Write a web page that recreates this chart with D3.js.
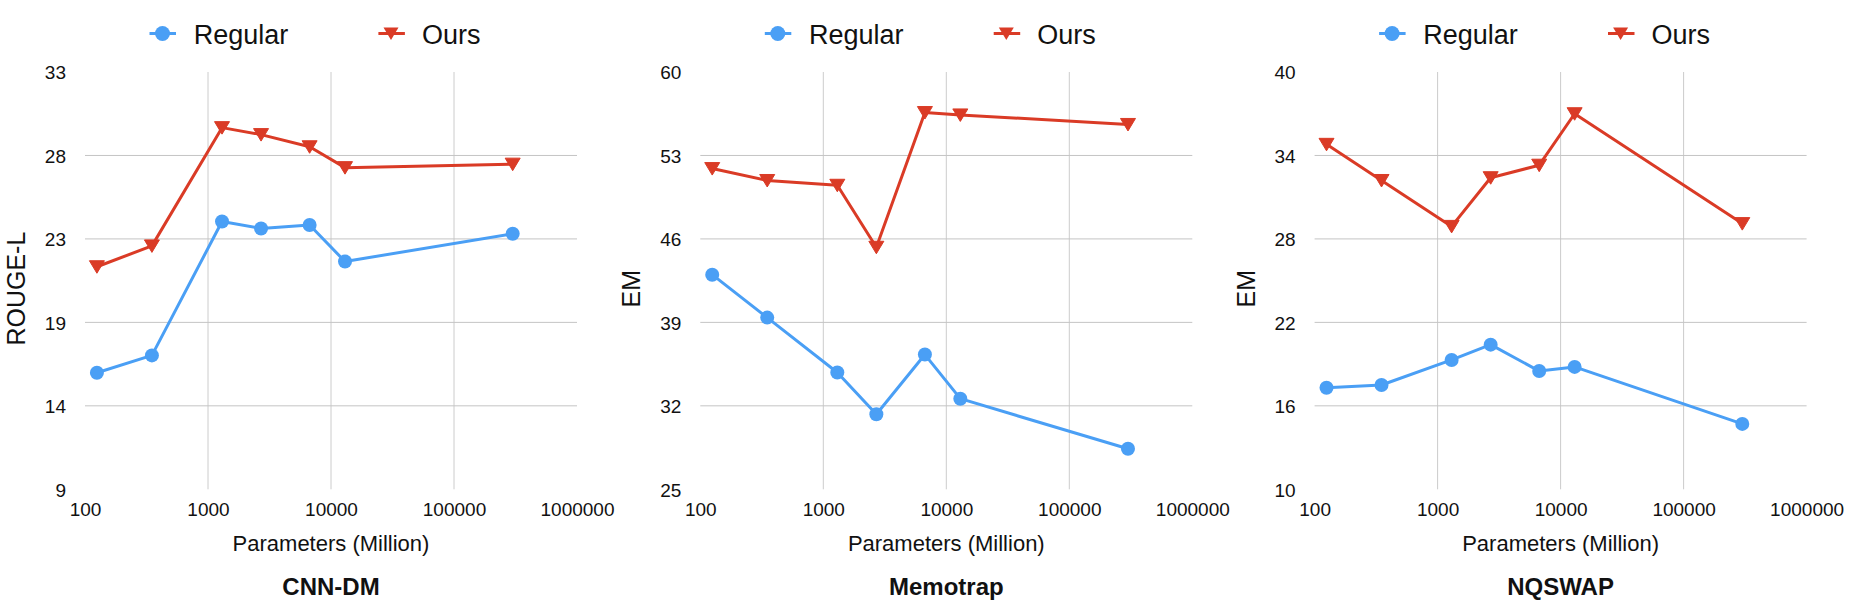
<!DOCTYPE html>
<html>
<head>
<meta charset="utf-8">
<script src="https://cdn.jsdelivr.net/npm/d3@7"></script>
<style>
  html, body { margin: 0; padding: 0; background: #fff; }
  svg { display: block; font-family: "Liberation Sans", Arial, Helvetica, sans-serif; }
</style>
</head>
<body>
<svg id="chart" width="1862" height="606"></svg>
<script>
// ---- data ----
const params = [125, 350, 1300, 2700, 6700, 13000, 300000];
const xTicks = [100, 1000, 10000, 100000, 1000000];
const seriesNames = ["Regular", "Ours"];

const cnnRegular = [15.7, 16.7, 24.4, 24.0, 24.2, 22.1, 23.7];
const cnnOurs    = [21.8, 23.0, 29.8, 29.4, 28.7, 27.5, 27.7];
const cnnTicks   = [9, 13.8, 18.6, 23.4, 28.2, 33];
const cnnTickLabels = ["9", "14", "19", "23", "28", "33"];

const memoRegular = [43.0, 39.4, 34.8, 31.3, 36.3, 32.6, 28.4];
const memoOurs    = [51.9, 50.9, 50.5, 45.3, 56.6, 56.4, 55.6];
const memoTicks   = [25, 32, 39, 46, 53, 60];
const memoTickLabels = ["25", "32", "39", "46", "53", "60"];

const nqRegular = [17.3, 17.5, 19.3, 20.4, 18.5, 18.8, 14.7];
const nqOurs    = [34.8, 32.2, 28.9, 32.4, 33.3, 37.0, 29.1];
const nqTicks   = [10, 16, 22, 28, 34, 40];
const nqTickLabels = ["10", "16", "22", "28", "34", "40"];

const panelTitles = ["CNN-DM", "Memotrap", "NQSWAP"];
const yTitles = ["ROUGE-L", "EM", "EM"];

// ---- layout ----
const panels = [
  { x0: 85,    reg: cnnRegular,  ours: cnnOurs,  ticks: cnnTicks,  labels: cnnTickLabels },
  { x0: 700.3, reg: memoRegular, ours: memoOurs, ticks: memoTicks, labels: memoTickLabels },
  { x0: 1314.6, reg: nqRegular,  ours: nqOurs,   ticks: nqTicks,   labels: nqTickLabels }
];
const plotW = 492, yTop = 72, yBot = 489.3;
const BLUE = "#4a9ff5", RED = "#da3b26", GRID = "#cccccc";

const svg = d3.select("#chart");

function triPath(cx, cy) {
  return `M${cx - 7.5},${cy - 6}L${cx + 7.5},${cy - 6}L${cx},${cy + 6.5}Z`;
}

panels.forEach((p, i) => {
  const x = d3.scaleLog().domain([100, 1000000]).range([p.x0, p.x0 + plotW]);
  const y = d3.scaleLinear().domain([p.ticks[0], p.ticks[p.ticks.length - 1]]).range([yBot, yTop]);
  const g = svg.append("g");

  // vertical gridlines (interior)
  g.append("g").selectAll("line")
    .data(xTicks.slice(1, -1)).join("line")
    .attr("x1", d => x(d)).attr("x2", d => x(d))
    .attr("y1", yTop).attr("y2", yBot)
    .attr("stroke", GRID).attr("stroke-width", 1);

  // horizontal gridlines (interior)
  g.append("g").selectAll("line")
    .data(p.ticks.slice(1, -1)).join("line")
    .attr("x1", p.x0).attr("x2", p.x0 + plotW)
    .attr("y1", d => y(d)).attr("y2", d => y(d))
    .attr("stroke", "#c4c4c4").attr("stroke-width", 1);

  // y axis
  const ya = g.append("g").attr("transform", `translate(${p.x0},0)`)
    .call(d3.axisLeft(y).tickValues(p.ticks).tickFormat((d, k) => p.labels[k]).tickSize(0).tickPadding(19));
  ya.select(".domain").remove();
  ya.selectAll("text").attr("font-size", 19).attr("fill", "#111").attr("font-family", "Liberation Sans, Arial, sans-serif").attr("dy", "0.36em");

  // x axis
  const xa = g.append("g").attr("transform", `translate(0,${yBot})`)
    .call(d3.axisBottom(x).tickValues(xTicks).tickFormat(d3.format("d")).tickSize(0).tickPadding(13));
  xa.select(".domain").remove();
  xa.selectAll("text").attr("font-size", 19).attr("fill", "#111").attr("font-family", "Liberation Sans, Arial, sans-serif");

  // lines
  const line = d3.line().x((d, k) => x(params[k])).y(d => y(d));
  [[p.reg, BLUE], [p.ours, RED]].forEach(([vals, col]) => {
    g.append("path").datum(vals).attr("d", line)
      .attr("fill", "none").attr("stroke", col).attr("stroke-width", 3)
      .attr("stroke-linejoin", "round").attr("stroke-linecap", "round");
  });

  // markers
  g.append("g").selectAll("circle").data(p.reg).join("circle")
    .attr("cx", (d, k) => x(params[k])).attr("cy", d => y(d)).attr("r", 7)
    .attr("fill", BLUE);
  g.append("g").selectAll("path").data(p.ours).join("path")
    .attr("d", (d, k) => triPath(x(params[k]), y(d)))
    .attr("fill", RED).attr("stroke", RED).attr("stroke-width", 1).attr("stroke-linejoin", "round");

  // legend
  const lg = g.append("g").attr("transform", `translate(${p.x0},33.5)`);
  lg.append("line").attr("x1", 64.5).attr("x2", 91).attr("y1", 0).attr("y2", 0).attr("stroke", BLUE).attr("stroke-width", 3);
  lg.append("circle").attr("cx", 77.5).attr("cy", 0).attr("r", 7.5).attr("fill", BLUE);
  lg.append("text").attr("x", 108.7).attr("y", 10).attr("font-size", 27).attr("fill", "#111").text(seriesNames[0]);
  lg.append("line").attr("x1", 293.4).attr("x2", 319.9).attr("y1", 0).attr("y2", 0).attr("stroke", RED).attr("stroke-width", 3);
  lg.append("path").attr("d", triPath(306, 0)).attr("fill", RED);
  lg.append("text").attr("x", 337).attr("y", 10).attr("font-size", 27).attr("fill", "#111").text(seriesNames[1]);

  // y title
  g.append("text").attr("transform", `translate(${p.x0 - 60},${(yTop + yBot) / 2 + 8}) rotate(-90)`)
    .attr("text-anchor", "middle").attr("font-size", 25).attr("fill", "#111").text(yTitles[i]);

  // x title
  g.append("text").attr("x", p.x0 + plotW / 2).attr("y", 550.7)
    .attr("text-anchor", "middle").attr("font-size", 22).attr("fill", "#111").text("Parameters (Million)");

  // panel title
  g.append("text").attr("x", p.x0 + plotW / 2).attr("y", 595)
    .attr("text-anchor", "middle").attr("font-size", 24).attr("font-weight", "bold").attr("fill", "#111").text(panelTitles[i]);
});
</script>
</body>
</html>
